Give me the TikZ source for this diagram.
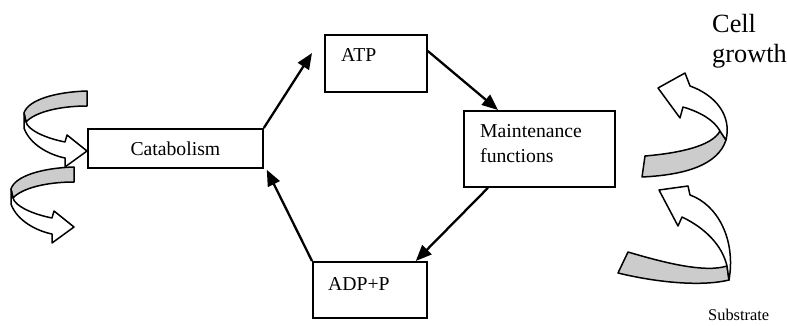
\documentclass[tikz,border=0pt]{standalone}
\usepackage{fontspec}
\setmainfont{Liberation Serif}
\usetikzlibrary{arrows.meta,calc}
\begin{document}
\begin{tikzpicture}[x=1pt,y=-1pt,
  procbox/.style={draw,line width=1.8pt,inner sep=0pt,anchor=north west},
  boxtext/.style={inner sep=0pt,font=\fontsize{19.7}{25}\selectfont},
  flow/.style={line width=2.3pt,-{Triangle[length=16pt,width=13pt]}},
  ribbonline/.style={draw,line width=1.5pt,line join=round},
  backside/.style={ribbonline,fill=black!20},
  frontside/.style={ribbonline,fill=white},
  leftribbon/.pic={
    \path[backside] (0,0) .. controls (-32,1) and (-59,9) .. (-63,22)
      -- (-61,31) .. controls (-52,21) and (-27,15) .. (0,15) -- cycle;
    \path[frontside] (-63,22) -- (-63,37) .. controls (-57,54) and (-37,64) .. (-22,67)
      -- (-22,76) -- (0,60) -- (-20,44) -- (-22,51)
      .. controls (-42,47) and (-59,39) .. (-61,31) -- cycle;
  }]
\useasboundingbox (0,0) rectangle (787,326);

% process boxes
\node[procbox,minimum width=175pt,minimum height=39pt,
      font=\fontsize{19.7}{25}\selectfont] (cat) at (87,128) {Catabolism};
\node[procbox,minimum width=102pt,minimum height=57pt] (atp) at (324,34) {};
\node[boxtext,anchor=base west] (atptext) at (341,62) {ATP};
\node[procbox,minimum width=151pt,minimum height=76pt] (maint) at (463,110) {};
\node[boxtext,anchor=base west,align=left] (mainttext) at (480,163) {Maintenance\\functions};
\node[procbox,minimum width=114pt,minimum height=56pt] (adp) at (312,261) {};
\node[boxtext,anchor=base west] (adptext) at (328,290) {ADP+P};

% energy cycle
\draw[flow] (cat.north east) -- ($(atp.north west)+(-12,19)$);
\draw[flow] ($(atp.north east)+(0,17)$) -- ($(maint.north west)+(35,0)$);
\draw[flow] ($(maint.south west)+(25,0)$) -- ($(adp.north east)+(-12,0)$);
\draw[flow] (adp.north west) -- ($(cat.south east)+(3,1)$);

% curled arrows on the left
\pic at (87,91) {leftribbon};
\pic at (74,167) {leftribbon};

% curled arrows on the right
\path[backside] (645,156) .. controls (680,153) and (712,146) .. (720,131)
  -- (726,140) .. controls (718,165) and (685,175) .. (642,177) -- cycle;
\path[frontside] (726,140) .. controls (732,115) and (715,95) .. (690,86)
  -- (685,73) -- (658,88) -- (680,118) -- (683,107)
  .. controls (700,112) and (714,120) .. (720,131) -- cycle;

\path[backside] (628,252) .. controls (665,263) and (705,273) .. (727,266)
  -- (729,280) .. controls (700,287) and (655,282) .. (618,273) -- cycle;
\path[frontside] (729,280) .. controls (736,240) and (718,205) .. (690,195)
  -- (688,186) -- (659,190) -- (678,226) -- (682,217)
  .. controls (705,228) and (722,245) .. (727,266) -- cycle;

% labels
\node[inner sep=0pt,anchor=base west,align=left,
      font=\fontsize{26.3}{30}\selectfont] (growth) at (712,63) {Cell\\growth};
\node[inner sep=0pt,anchor=base west,
      font=\fontsize{16.4}{20}\selectfont] (substrate) at (708,320) {Substrate};
\end{tikzpicture}
\end{document}
